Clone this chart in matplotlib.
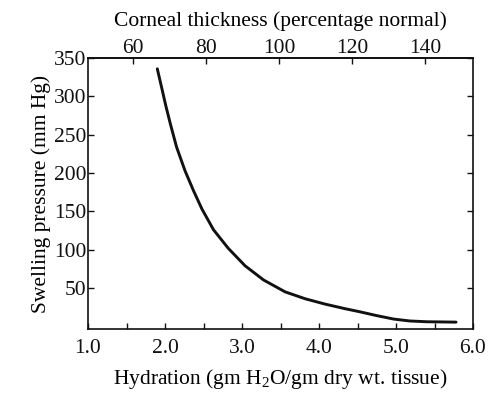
import matplotlib
matplotlib.use("Agg")
import matplotlib.pyplot as plt
from matplotlib.ticker import FixedLocator, FormatStrFormatter, NullFormatter

# curve
hydration = [1.90, 1.96, 2.01, 2.07, 2.15, 2.26, 2.37, 2.48, 2.63, 2.82, 3.04,
             3.28, 3.56, 3.82, 4.08, 4.34, 4.53, 4.75, 4.97, 5.18, 5.40, 5.57, 5.78]
pressure = [336, 310, 288, 264, 234, 203, 177, 153, 126, 102, 79,
            60.5, 45, 36, 29, 23, 19, 14, 9.5, 7, 6, 5.8, 5.5]

x_major = [1.0, 2.0, 3.0, 4.0, 5.0, 6.0]
x_minor = [1.5, 2.5, 3.5, 4.5, 5.5]
y_ticks = [50, 100, 150, 200, 250, 300, 350]
thickness_ticks = [60, 80, 100, 120, 140]

# hydration <-> corneal thickness (linear, from the top scale)
H0, T0, SLOPE = 1.588, 60.0, 0.04736


def to_thickness(h):
    return T0 + (h - H0) / SLOPE


def to_hydration(t):
    return H0 + (t - T0) * SLOPE


plt.rcParams["font.family"] = ["Liberation Serif", "DejaVu Serif"]
plt.rcParams["mathtext.fontset"] = "custom"
plt.rcParams["mathtext.rm"] = "Liberation Serif"
plt.rcParams["font.size"] = 15.5

fig = plt.figure(figsize=(5, 3.95), dpi=100)
ax = fig.add_axes([0.176, 0.167, 0.77, 0.686])

ax.plot(hydration, pressure, color="#111111", lw=2.1, solid_capstyle="round",
        solid_joinstyle="round")

ax.set_xlim(1.0, 6.0)
ax.set_ylim(-3.5, 350)
ax.xaxis.set_major_locator(FixedLocator(x_major))
ax.xaxis.set_minor_locator(FixedLocator(x_minor))
ax.xaxis.set_major_formatter(FormatStrFormatter("%.1f"))
ax.xaxis.set_minor_formatter(NullFormatter())
ax.yaxis.set_major_locator(FixedLocator(y_ticks))

for s in ax.spines.values():
    s.set_linewidth(1.2)
    s.set_color("#111111")

ax.tick_params(axis="both", which="both", direction="in", length=4, width=1.0,
               colors="#111111", labelcolor="#111111")
ax.tick_params(axis="x", which="both", top=False, pad=7)
ax.tick_params(axis="y", right=True, pad=1)

ax.set_xlabel("Hydration (gm H$_2$O/gm dry wt. tissue)", labelpad=7)
ax.set_ylabel("Swelling pressure (mm Hg)", labelpad=2)

top = ax.secondary_xaxis("top", functions=(to_thickness, to_hydration))
top.xaxis.set_major_locator(FixedLocator(thickness_ticks))
top.tick_params(direction="in", length=4, width=1.0, pad=0, colors="#111111")
top.spines["top"].set_linewidth(1.2)
top.set_xlabel("Corneal thickness (percentage normal)", labelpad=9.5)

fig.savefig("out.png", dpi=100, facecolor="white")
